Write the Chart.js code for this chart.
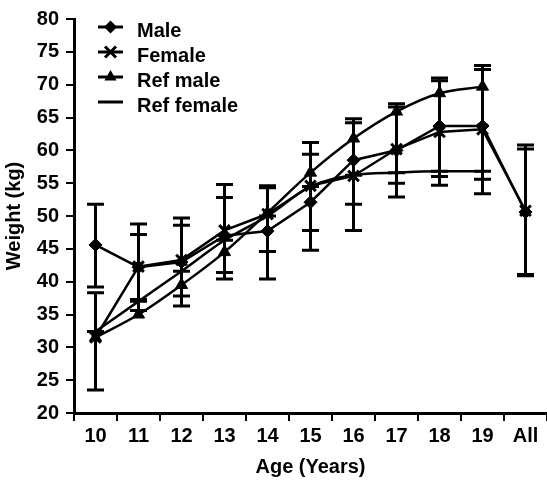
<!DOCTYPE html>
<html><head><meta charset="utf-8">
<script src="https://cdn.jsdelivr.net/npm/chart.js@4.4.1/dist/chart.umd.min.js"></script>
<style>html,body{margin:0;padding:0;background:#fff}#wrap{width:547px;height:483px}</style>
</head><body><div id="wrap"><canvas id="c" width="547" height="483"></canvas></div>
<script>
const categories = ['10','11','12','13','14','15','16','17','18','19','All'];
const yTicks = [20,25,30,35,40,45,50,55,60,65,70,75,80];
const male       = [45.6,42.2,43.0,47.0,47.7,52.1,58.5,60.0,63.7,63.7,50.6];
const maleLow    = [39.2,35.6,36.3,40.4,40.4,44.8,51.8,52.9,56.0,55.6,41.1];
const maleHigh   = [51.8,48.8,49.7,54.8,54.6,59.4,64.8,67.1,71.0,72.3,60.2];
const female     = [31.5,42.3,43.3,47.8,50.3,54.6,56.1,60.2,62.8,63.2,50.8];
const femaleLow  = [23.5,37.3,37.8,41.4,44.6,47.8,47.8,55.0,54.7,53.4,40.9];
const femaleHigh = [38.3,47.2,48.6,52.8,54.3,61.2,64.2,66.6,70.6,72.9,60.8];
const refMale    = [31.5,35.0,39.5,44.5,50.5,56.6,61.8,65.9,68.7,69.7,null];
const refFemale  = [32.4,37.0,41.6,46.3,50.0,54.5,56.2,56.6,56.8,56.8,null];

const FONT = {family:'"Liberation Sans", Arial, sans-serif', size:20, weight:'bold'};

const errorBars = {
  id:'errorBars',
  beforeDatasetsDraw(chart){
    const {ctx, scales:{x, y}} = chart;
    ctx.save();
    ctx.strokeStyle = '#000'; ctx.lineWidth = 3; ctx.lineCap = 'butt';
    [[maleLow, maleHigh],[femaleLow, femaleHigh]].forEach(([lo, hi]) => {
      lo.forEach((l, i) => {
        const px = x.getPixelForValue(i);
        const y1 = y.getPixelForValue(l), y2 = y.getPixelForValue(hi[i]);
        ctx.beginPath();
        ctx.moveTo(px, y1); ctx.lineTo(px, y2);
        ctx.moveTo(px - 8.5, y1); ctx.lineTo(px + 8.5, y1);
        ctx.moveTo(px - 8.5, y2); ctx.lineTo(px + 8.5, y2);
        ctx.stroke();
      });
    });
    ctx.restore();
  }
};

function marker(ctx, style, cx, cy){
  ctx.beginPath();
  if (style === 'rectRot'){
    const r = 6.5;
    ctx.moveTo(cx - r, cy); ctx.lineTo(cx, cy - r); ctx.lineTo(cx + r, cy); ctx.lineTo(cx, cy + r); ctx.closePath();
    ctx.fill();
  } else if (style === 'crossRot'){
    const r = 5.5;
    ctx.lineWidth = 3;
    ctx.moveTo(cx - r, cy - r); ctx.lineTo(cx + r, cy + r);
    ctx.moveTo(cx - r, cy + r); ctx.lineTo(cx + r, cy - r);
    ctx.stroke();
  } else if (style === 'triangle'){
    const r = 7;
    ctx.moveTo(cx, cy - r); ctx.lineTo(cx + r * 0.87, cy + r * 0.5); ctx.lineTo(cx - r * 0.87, cy + r * 0.5); ctx.closePath();
    ctx.fill();
  }
}

const legendBox = {
  id:'legendBox',
  afterDraw(chart){
    const ctx = chart.ctx;
    ctx.save();
    ctx.fillStyle = '#000'; ctx.strokeStyle = '#000';
    ctx.font = `${FONT.weight} ${FONT.size}px ${FONT.family}`;
    ctx.textBaseline = 'alphabetic'; ctx.textAlign = 'left';
    chart.data.datasets.forEach((ds, i) => {
      const cy = 27 + i * 25;
      ctx.lineWidth = 3;
      ctx.beginPath(); ctx.moveTo(98, cy); ctx.lineTo(123, cy); ctx.stroke();
      marker(ctx, ds.pointStyle, 110.5, cy);
      ctx.fillText(ds.label, 137, cy + 9.5);
    });
    ctx.restore();
  }
};

const base = {borderColor:'#000', backgroundColor:'#000', pointBackgroundColor:'#000', pointBorderColor:'#000', fill:false};

new Chart(document.getElementById('c'), {
  type:'line',
  data:{
    labels:categories,
    datasets:[
      Object.assign({label:'Male', data:male, borderWidth:2.5, pointStyle:'rectRot', pointRadius:6.5, pointBorderWidth:1, tension:0}, base),
      Object.assign({label:'Female', data:female, borderWidth:2.5, pointStyle:'crossRot', pointRadius:7.5, pointBorderWidth:3, tension:0}, base),
      Object.assign({label:'Ref male', data:refMale, borderWidth:2.5, pointStyle:'triangle', pointRadius:7, pointBorderWidth:1, cubicInterpolationMode:'monotone'}, base),
      Object.assign({label:'Ref female', data:refFemale, borderWidth:2.5, pointStyle:'line', pointRadius:8.5, pointBorderWidth:3, cubicInterpolationMode:'monotone'}, base)
    ]
  },
  options:{
    responsive:false, animation:false, devicePixelRatio:1,
    layout:{autoPadding:false, padding:{top:16, right:0, left:0, bottom:0}},
    plugins:{legend:{display:false}, tooltip:{enabled:false}},
    scales:{
      x:{
        type:'category', offset:true,
        afterFit(s){ s.height = 70; },
        grid:{display:true, drawOnChartArea:false, drawTicks:true, tickLength:8, color:'#000', lineWidth:2, offset:true},
        border:{display:true, color:'#000', width:3},
        ticks:{color:'#000', font:FONT, padding:3, maxRotation:0, autoSkip:false},
        title:{display:true, text:'Age (Years)', color:'#000', font:FONT, padding:{top:4, bottom:4}}
      },
      y:{
        min:20, max:80,
        afterFit(s){ s.width = 74; },
        afterBuildTicks(s){ s.ticks = yTicks.map(v => ({value:v})); },
        grid:{display:true, drawOnChartArea:false, drawTicks:true, tickLength:8, color:'#000', lineWidth:2},
        border:{display:true, color:'#000', width:3},
        ticks:{color:'#000', font:FONT, padding:7},
        title:{display:true, text:'Weight (kg)', color:'#000', font:FONT, padding:{top:2, bottom:2}}
      }
    }
  },
  plugins:[errorBars, legendBox]
});
</script>
</body></html>
